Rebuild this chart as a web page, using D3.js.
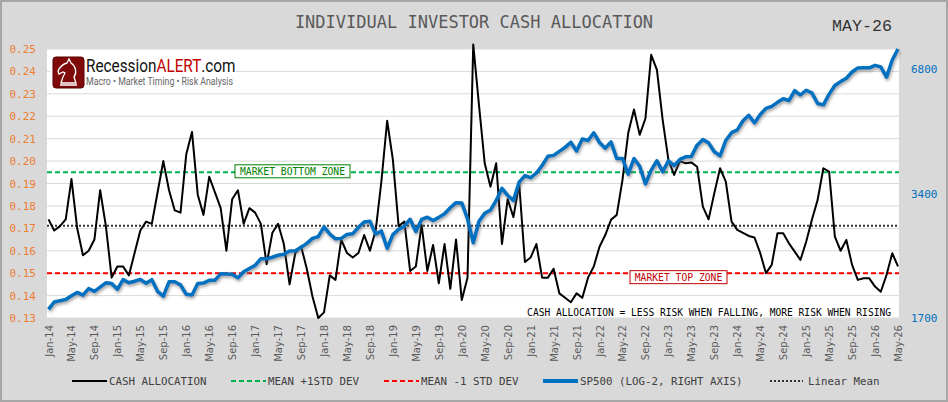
<!DOCTYPE html>
<html>
<head>
<meta charset="utf-8">
<script src="https://cdn.jsdelivr.net/npm/d3@7"></script>
<style>
  body { margin: 0; background: #fff; }
  svg { display: block; }
  .mono { font-family: "DejaVu Sans Mono", "Liberation Mono", monospace; }
</style>
</head>
<body>
<svg id="chart" width="948" height="402"></svg>
<script>
// monthly cash allocation (fraction of portfolio), Jan-14 .. May-26
const cash = [
  0.174, 0.169, 0.171, 0.174, 0.192, 0.170, 0.158, 0.160, 0.165, 0.187, 0.171, 0.148,
  0.153, 0.153, 0.149, 0.159, 0.169, 0.173, 0.172, 0.186, 0.200, 0.187, 0.178, 0.177,
  0.203, 0.213, 0.185, 0.176, 0.193, 0.186, 0.179, 0.160, 0.183, 0.187, 0.172, 0.179,
  0.177, 0.172, 0.154, 0.168, 0.172, 0.163, 0.145, 0.159, 0.162, 0.152, 0.1395, 0.130,
  0.1325, 0.149, 0.147, 0.165, 0.159, 0.157, 0.159, 0.167, 0.160, 0.169, 0.191, 0.218,
  0.2005, 0.171, 0.173, 0.151, 0.153, 0.1715, 0.151, 0.1626, 0.1455, 0.163, 0.143, 0.165,
  0.138, 0.148, 0.252, 0.225, 0.199, 0.1886, 0.199, 0.163, 0.183, 0.175, 0.190, 0.155,
  0.157, 0.163, 0.148, 0.148, 0.152, 0.141, 0.139, 0.137, 0.141, 0.139, 0.148, 0.153,
  0.1618, 0.167, 0.1738, 0.176, 0.1916, 0.2125, 0.223, 0.2117, 0.219, 0.2474, 0.2407, 0.2184,
  0.2005, 0.1938, 0.200, 0.199, 0.1994, 0.1975, 0.1797, 0.174, 0.1857, 0.1968, 0.1908, 0.173,
  0.1693, 0.168, 0.1666, 0.1659, 0.1589, 0.150, 0.1537, 0.1678, 0.1678, 0.1633, 0.1596, 0.1559,
  0.164, 0.1738, 0.1827, 0.1968, 0.1953, 0.1663, 0.160, 0.1648, 0.1537, 0.147, 0.1477, 0.1477,
  0.144, 0.1417, 0.1492, 0.1589, 0.153
]

// S&P 500 monthly level, same months
const sp500 = [
  1783, 1859, 1872, 1884, 1924, 1960, 1931, 2003, 1972, 2018, 2068, 2059,
  1995, 2105, 2068, 2086, 2107, 2063, 2104, 1972, 1920, 2079, 2080, 2044,
  1940, 1932, 2060, 2065, 2097, 2099, 2174, 2171, 2168, 2126, 2199, 2239,
  2279, 2364, 2363, 2384, 2412, 2423, 2470, 2472, 2519, 2575, 2648, 2674,
  2824, 2714, 2641, 2648, 2705, 2718, 2816, 2902, 2914, 2712, 2760, 2507,
  2704, 2784, 2834, 2946, 2752, 2942, 2980, 2926, 2977, 3038, 3141, 3231,
  3226, 2954, 2585, 2912, 3044, 3100, 3271, 3500, 3363, 3270, 3622, 3756,
  3714, 3811, 3973, 4181, 4204, 4298, 4395, 4523, 4308, 4605, 4567, 4766,
  4516, 4374, 4530, 4132, 4132, 3785, 4130, 3955, 3586, 3872, 4080, 3840,
  4077, 3970, 4109, 4169, 4180, 4450, 4589, 4508, 4288, 4194, 4568, 4770,
  4846, 5096, 5254, 5036, 5278, 5460, 5522, 5648, 5762, 5705, 6032, 5882,
  6041, 5955, 5612, 5569, 5912, 6205, 6339, 6460, 6688, 6840, 6849, 6845,
  6940, 6880, 6500, 7150, 7600
]

const meanPlus = 0.195
const meanMinus = 0.150
const linearMean = 0.1712

const leftTicks = [0.13, 0.14, 0.15, 0.16, 0.17, 0.18, 0.19, 0.20, 0.21, 0.22, 0.23, 0.24, 0.25]
const rightTicks = [1700, 3400, 6800]

const legendItems = [
  {label: 'CASH ALLOCATION', color: '#000', dash: null, w: 2},
  {label: 'MEAN +1STD DEV', color: '#00b050', dash: '5,3', w: 2},
  {label: 'MEAN -1 STD DEV', color: '#ff0000', dash: '5,3', w: 2},
  {label: 'SP500 (LOG-2, RIGHT AXIS)', color: '#0070c0', dash: null, w: 4},
  {label: 'Linear Mean', color: '#333', dash: '2,2', w: 2}
]

const fmtMonth = d3.timeFormat('%b-%y')
const months = d3.timeMonth.range(new Date(2014, 0, 1), new Date(2026, 5, 1)).map(fmtMonth)

const W = 948, H = 402
const plot = {left: 47, right: 899, top: 49, bottom: 318}

const svg = d3.select('#chart')

// drop shadow for the S&P line
const defs = svg.append('defs')
defs.append('filter').attr('id', 'shadow')
  .attr('x', '-5%').attr('y', '-5%').attr('width', '110%').attr('height', '120%')
  .append('feDropShadow')
    .attr('dx', 1).attr('dy', 2).attr('stdDeviation', 1.5)
    .attr('flood-color', '#555').attr('flood-opacity', 0.55)

svg.append('rect')
  .attr('x', 1).attr('y', 1).attr('width', W - 2).attr('height', H - 2)
  .attr('fill', '#d9d9d9').attr('stroke', '#a6a6a6').attr('stroke-width', 2)

svg.append('rect')
  .attr('x', plot.left).attr('y', plot.top)
  .attr('width', plot.right - plot.left).attr('height', plot.bottom - plot.top)
  .attr('fill', '#fff')

const x = d3.scalePoint().domain(months).range([48.5, 898])
const y = d3.scaleLinear().domain([0.13, 0.25]).range([plot.bottom, plot.top])
const yR = d3.scaleLog().base(2).domain([1700, 7600]).range([plot.bottom, plot.top])

// gridlines
svg.append('g').selectAll('line').data(leftTicks).join('line')
  .attr('x1', plot.left).attr('x2', plot.right)
  .attr('y1', d => y(d)).attr('y2', d => y(d))
  .attr('stroke', '#d9d9d9').attr('stroke-width', 1)

// title + date
svg.append('text').attr('class', 'mono')
  .attr('x', 474).attr('y', 28).attr('text-anchor', 'middle')
  .attr('font-size', 17).attr('fill', '#595959')
  .text('INDIVIDUAL INVESTOR CASH ALLOCATION')

svg.append('text')
  .attr('x', 862).attr('y', 31).attr('text-anchor', 'middle')
  .attr('font-family', '"Liberation Mono", monospace')
  .attr('font-size', 16).attr('fill', '#333')
  .attr('textLength', 60).attr('lengthAdjust', 'spacingAndGlyphs')
  .text('MAY-26')

// logo
const logo = svg.append('g').attr('transform', 'translate(52,56)')
logo.append('rect').attr('x', -2).attr('y', -1).attr('width', 186).attr('height', 35).attr('fill', '#fff')
logo.append('rect').attr('x', 1).attr('y', 1).attr('width', 31).attr('height', 31).attr('rx', 3)
  .attr('fill', '#7f0a0a').attr('stroke', '#5a0000')
logo.append('path')
  .attr('d', 'M9,27 L24,27 L22,21 C25,17 24,10 19,7 L17,3 L15,7 C11,8 8,11 6,15 L7,18 L11,16 L13,17 C11,20 10,23 9,27 Z M8,29 L25,29')
  .attr('fill', 'none').attr('stroke', '#fff').attr('stroke-width', 1.3)
const brandG = logo.append('g').attr('transform', 'translate(34,16)')
const brand = brandG.append('text')
  .attr('font-family', 'Roboto, "Liberation Sans", sans-serif')
  .attr('font-size', 18)
brand.append('tspan').attr('fill', '#111').text('Recession')
brand.append('tspan').attr('fill', '#c00000').text('ALERT')
brand.append('tspan').attr('fill', '#111').text('.com')
// squeeze the brand into its slot (condensed look)
const brandLen = brand.node().getComputedTextLength()
brandG.attr('transform', `translate(34,16) scale(${148 / brandLen},1)`)
logo.append('text')
  .attr('x', 34).attr('y', 29).attr('font-family', 'Roboto, "Liberation Sans", sans-serif')
  .attr('font-size', 10).attr('fill', '#666')
  .attr('textLength', 147).attr('lengthAdjust', 'spacingAndGlyphs')
  .text('Macro \u2022 Market Timing \u2022 Risk Analysis')

// axes
const xAxis = svg.append('g')
  .attr('transform', `translate(0,${plot.bottom})`)
  .call(d3.axisBottom(x).tickValues(months.filter((d, i) => i % 4 === 0)).tickSize(0))
xAxis.select('.domain').remove()
xAxis.selectAll('text')
  .attr('font-family', '"DejaVu Sans", sans-serif').attr('font-size', 10).attr('fill', '#595959')
  .attr('transform', 'rotate(-90)')
  .attr('x', -7).attr('y', 0).attr('dy', '0.35em')
  .attr('text-anchor', 'end')

const yAxis = svg.append('g')
  .attr('transform', 'translate(40,0)')
  .call(d3.axisLeft(y).tickValues(leftTicks).tickFormat(d3.format('.2f')).tickSize(0).tickPadding(4))
yAxis.select('.domain').remove()
yAxis.selectAll('text').attr('class', 'mono').attr('font-size', 11).attr('fill', '#ed7d31')

const yAxisR = svg.append('g')
  .attr('transform', 'translate(905,0)')
  .call(d3.axisRight(yR).tickValues(rightTicks).tickFormat(d3.format('d')).tickSize(0).tickPadding(6))
yAxisR.select('.domain').remove()
yAxisR.selectAll('text').attr('class', 'mono').attr('font-size', 11).attr('fill', '#0070c0')

// reference lines
const refs = [
  {v: meanPlus, color: '#00b050', dash: '5,3'},
  {v: meanMinus, color: '#ff0000', dash: '5,3'},
  {v: linearMean, color: '#333', dash: '2,2'}
]
svg.append('g').selectAll('line').data(refs).join('line')
  .attr('x1', plot.left).attr('x2', plot.right)
  .attr('y1', d => y(d.v)).attr('y2', d => y(d.v))
  .attr('stroke', d => d.color).attr('stroke-width', 2)
  .attr('stroke-dasharray', d => d.dash)

// series
const cashLine = d3.line().x((d, i) => x(months[i])).y(d => y(d))
svg.append('path').datum(cash)
  .attr('d', cashLine)
  .attr('fill', 'none').attr('stroke', '#000').attr('stroke-width', 2)
  .attr('stroke-linejoin', 'round')

const spLine = d3.line().x((d, i) => x(months[i])).y(d => yR(d))
svg.append('path').datum(sp500)
  .attr('d', spLine)
  .attr('fill', 'none').attr('stroke', '#0070c0').attr('stroke-width', 3.5)
  .attr('stroke-linejoin', 'round')
  .attr('filter', 'url(#shadow)')

// zone labels
function zoneBox (label, x0, w, cy, color) {
  const g = svg.append('g')
  g.append('rect').attr('x', x0).attr('y', cy - 6.5).attr('width', w).attr('height', 13)
    .attr('fill', '#fff').attr('stroke', color).attr('stroke-width', 1)
  g.append('text').attr('class', 'mono')
    .attr('x', x0 + w / 2).attr('y', cy + 3.5).attr('text-anchor', 'middle')
    .attr('font-size', 9.7).attr('fill', color)
    .text(label)
}
zoneBox('MARKET BOTTOM ZONE', 235, 115, y(meanPlus) - 1, '#008000')
zoneBox('MARKET TOP ZONE', 630, 97, y(meanMinus) + 4, '#c00000')

svg.append('text').attr('class', 'mono')
  .attr('x', 891).attr('y', 315.5).attr('text-anchor', 'end')
  .attr('font-size', 9.6).attr('fill', '#000')
  .text('CASH ALLOCATION = LESS RISK WHEN FALLING, MORE RISK WHEN RISING')

// legend
const legendX = [72, 231, 384, 543, 770]
const legend = svg.append('g').selectAll('g').data(legendItems).join('g')
  .attr('transform', (d, i) => `translate(${legendX[i]},381)`)
legend.append('line')
  .attr('x1', 0).attr('x2', d => d.dash === '2,2' ? 33 : 35)
  .attr('y1', 0).attr('y2', 0)
  .attr('stroke', d => d.color).attr('stroke-width', d => d.w)
  .attr('stroke-dasharray', d => d.dash)
legend.append('text').attr('class', 'mono')
  .attr('x', d => d.dash === '2,2' ? 38 : 37).attr('y', 4)
  .attr('font-size', 10.8).attr('fill', '#404040')
  .text(d => d.label)
</script>
</body>
</html>
